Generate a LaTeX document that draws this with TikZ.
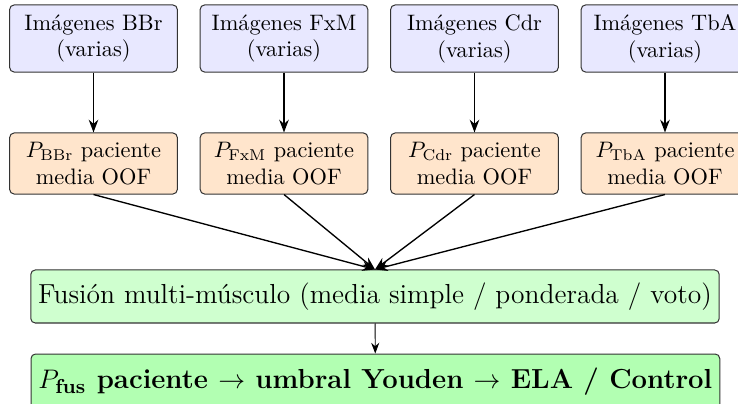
\documentclass[tikz,border=0pt]{standalone}
\usetikzlibrary{arrows.meta}
\begin{document}
\begin{tikzpicture}[x=0.4471pt,y=-0.4471pt,
  panel/.style={draw=black!80, line width=0.45pt, rounded corners=2pt, align=center, inner sep=0.3333em},
  imgbox/.style={panel, fill=blue!9, text width=2.4cm, minimum height=30pt},
  probbox/.style={panel, fill=orange!20, text width=2.4cm, minimum height=27.3pt},
  fusbox/.style={panel, fill=green!19, font=\fontsize{12.3}{15}\selectfont, minimum height=23.7pt},
  outbox/.style={panel, fill=green!30, font=\fontsize{12.3}{15}\selectfont\bfseries, minimum height=25pt},
  flow/.style={-{Stealth}, semithick},
  flowthin/.style={-{Stealth}},
]
\clip (0,0) rectangle (738,404);

% image sources per muscle
\node[imgbox] (i1) at (93.5,38.5)  {Imágenes BBr\\(varias)};
\node[imgbox] (i2) at (284,38.5)   {Imágenes FxM\\(varias)};
\node[imgbox] (i3) at (474.5,38.5) {Imágenes Cdr\\(varias)};
\node[imgbox] (i4) at (665,38.5)   {Imágenes TbA\\(varias)};

% per-muscle patient probabilities
\node[probbox] (p1) at (93.5,163.5)  {$P_{\mathrm{BBr}}$ paciente\\media OOF};
\node[probbox] (p2) at (284,163.5)   {$P_{\mathrm{FxM}}$ paciente\\media OOF};
\node[probbox] (p3) at (474.5,163.5) {$P_{\mathrm{Cdr}}$ paciente\\media OOF};
\node[probbox] (p4) at (665,163.5)   {$P_{\mathrm{TbA}}$ paciente\\media OOF};

% fusion and decision
\node[fusbox] (fus) at (375,296.5) {Fusión multi-músculo (media simple / ponderada / voto)};
\node[outbox] (out) at (375.4,382) {$P_{\mathbf{fus}}$ paciente $\to$ umbral Youden $\to$ ELA / Control};

% connectors
\foreach \k in {1,2,3,4} {
  \draw[flow] (i\k) -- (p\k);
  \draw[flow] (p\k.south) -- (fus.north);
}
\draw[flowthin] (fus) -- (out);
\end{tikzpicture}
\end{document}
